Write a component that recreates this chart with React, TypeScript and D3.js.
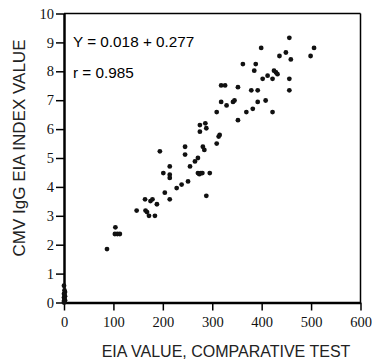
import * as d3 from 'd3';
import { useEffect, useRef } from 'react';

// comparative test EIA value vs CMV IgG index value
const xs = [
  87, 104, 103, 108, 113, 147, 164, 165, 168, 172, 175, 179, 184, 188, 194, 201, 204, 214, 214, 214,
  214, 228, 238, 245, 245, 251, 255, 265, 271, 271, 274, 277, 280, 275, 275, 281, 284, 286, 288, 288,
  295, 309, 309, 313, 315, 318, 318, 326, 329, 342, 345, 352, 352, 362, 369, 379, 382, 385, 388, 392,
  392, 399, 402, 408, 412, 422, 422, 425, 429, 432, 436, 449, 456, 456, 456, 459, 499, 506,
  0, 1, 2, 0, 1, 2, 0, 1, 2, 0, 1, 0,
];
const ys = [
  1.85, 2.6, 2.37, 2.37, 2.37, 3.18, 3.57, 3.18, 3.13, 3.0, 3.51, 3.57, 3.0, 3.4, 5.23, 4.48, 3.8, 4.71, 4.42, 4.31,
  3.57, 3.96, 4.08, 5.39, 5.12, 4.19, 4.71, 4.88, 5.0, 4.48, 4.44, 4.48, 4.48, 6.14, 5.91, 5.39, 5.28, 6.2, 6.03, 3.69,
  4.48, 5.5, 6.59, 5.74, 5.8, 6.94, 7.51, 7.51, 6.82, 6.94, 6.99, 7.45, 6.31, 8.25, 6.59, 7.34, 6.7, 8.02, 8.25, 7.34,
  6.94, 8.81, 7.74, 6.99, 7.85, 7.74, 6.59, 8.02, 7.96, 7.9, 8.53, 8.65, 9.16, 7.74, 7.34, 8.41, 8.53, 8.81,
  0.58, 0.42, 0.36, 0.3, 0.26, 0.22, 0.17, 0.12, 0.08, 0.05, 0.02, 0.0,
];
const xTicks = [0, 100, 200, 300, 400, 500, 600];
const yTicks = [0, 1, 2, 3, 4, 5, 6, 7, 8, 9, 10];
const equation = 'Y = 0.018 + 0.277';
const corr = 'r = 0.985';

export default function App() {
  const ref = useRef<SVGSVGElement | null>(null);

  useEffect(() => {
    const svg = d3.select(ref.current);
    svg.selectAll('*').remove();
    const margin = { top: 13.5, left: 64, right: 11.5, bottom: 57.5 };
    const width = 372;
    const height = 360;
    const innerW = width - margin.left - margin.right;
    const innerH = height - margin.top - margin.bottom;
    const g = svg.append('g').attr('transform', `translate(${margin.left},${margin.top})`);

    const x = d3.scaleLinear().domain([0, 600]).range([0, innerW]);
    const y = d3.scaleLinear().domain([0, 10]).range([innerH, 0]);
    const serif = '"Liberation Serif", "Times New Roman", serif';
    const sans = '"Liberation Sans", Arial, sans-serif';

    // frame top/right thin
    g.append('line').attr('x1', 0).attr('x2', innerW).attr('y1', 0).attr('y2', 0).attr('stroke', '#000').attr('stroke-width', 1.5);
    g.append('line').attr('x1', innerW).attr('x2', innerW).attr('y1', 0).attr('y2', innerH).attr('stroke', '#000').attr('stroke-width', 1.5);

    const xAxis = g.append('g').attr('transform', `translate(0,${innerH})`)
      .call(d3.axisBottom(x).tickValues(xTicks).tickSize(8).tickPadding(6).tickSizeOuter(0));
    xAxis.select('.domain').attr('stroke-width', 2.5);
    xAxis.selectAll('.tick line').attr('stroke-width', 1.5);
    xAxis.selectAll('text').attr('font-family', serif).attr('font-size', 14.5).attr('fill', '#111');

    const yAxis = g.append('g')
      .call(d3.axisLeft(y).tickValues(yTicks).tickSize(8).tickPadding(2).tickSizeOuter(0));
    yAxis.select('.domain').attr('stroke-width', 2.5);
    yAxis.selectAll('.tick line').attr('stroke-width', 1.5);
    yAxis.selectAll('text').attr('font-family', serif).attr('font-size', 14.5).attr('fill', '#111');

    g.selectAll('circle')
      .data(xs.map((v, i) => [v, ys[i]]))
      .enter()
      .append('circle')
      .attr('cx', (d) => x(d[0]))
      .attr('cy', (d) => y(d[1]))
      .attr('r', 2.4)
      .attr('fill', '#111');

    g.append('text').attr('x', 9).attr('y', 33.5).attr('font-family', sans).attr('font-size', 15.3).text(equation);
    g.append('text').attr('x', 9).attr('y', 64).attr('font-family', sans).attr('font-size', 15.3).text(corr);

    svg.append('text').attr('x', 226).attr('y', 357).attr('text-anchor', 'middle')
      .attr('font-family', sans).attr('font-size', 16).attr('fill', '#222').text('EIA VALUE, COMPARATIVE TEST');
    svg.append('text').attr('transform', 'translate(25,148) rotate(-90)').attr('text-anchor', 'middle')
      .attr('font-family', sans).attr('font-size', 17).attr('fill', '#222').text('CMV IgG EIA INDEX VALUE');
  }, []);

  return (
    <svg ref={ref} width={372} height={360} style={{ position: 'absolute', left: 0, top: 0, background: '#fff' }} />
  );
}
